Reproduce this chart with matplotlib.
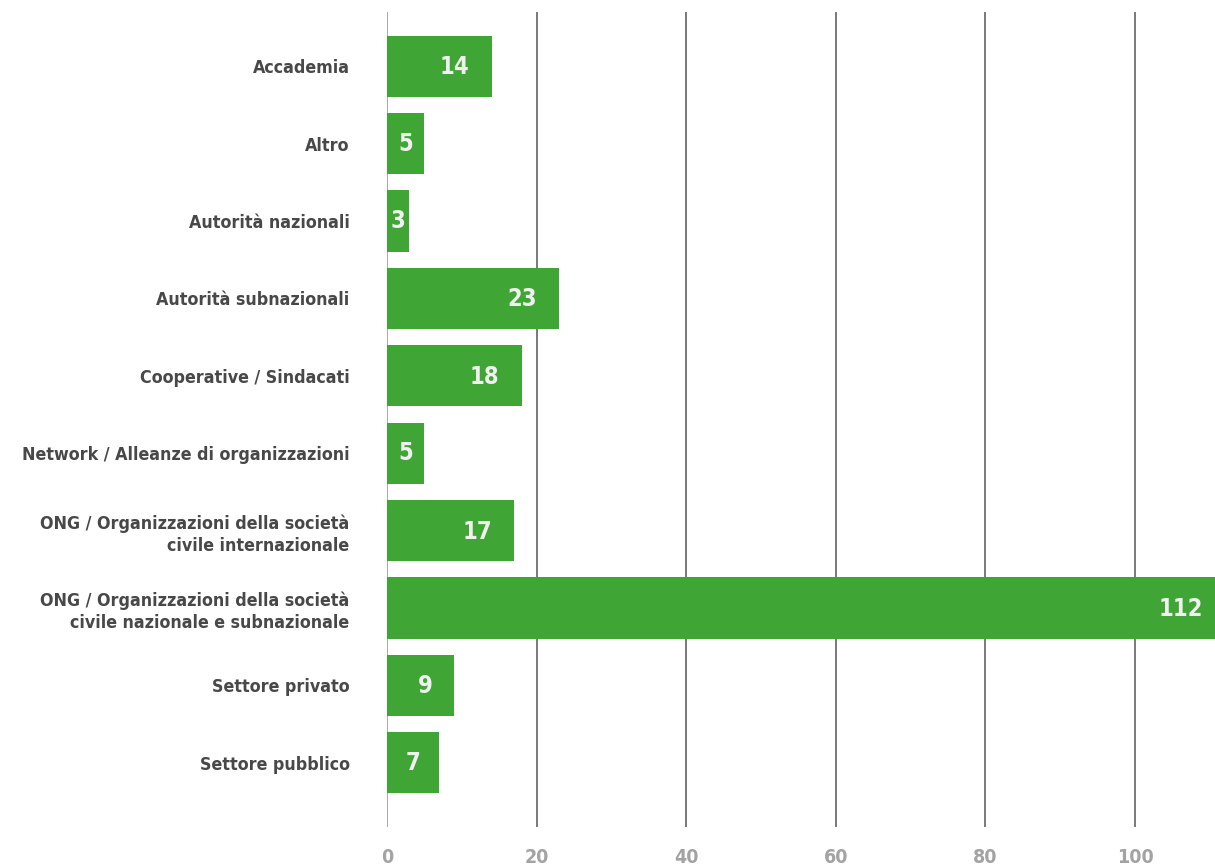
import matplotlib.pyplot as plt
from matplotlib.transforms import offset_copy

categories = [
    "Accademia",
    "Altro",
    "Autorità nazionali",
    "Autorità subnazionali",
    "Cooperative / Sindacati",
    "Network / Alleanze di organizzazioni",
    "ONG / Organizzazioni della società\ncivile internazionale",
    "ONG / Organizzazioni della società\ncivile nazionale e subnazionale",
    "Settore privato",
    "Settore pubblico",
]
values = [14, 5, 3, 23, 18, 5, 17, 112, 9, 7]
xticks = [0, 20, 40, 60, 80, 100]

plt.rcParams["font.family"] = ["DejaVu Sans"]
plt.rcParams["font.stretch"] = "condensed"

green = "#3fa535"

fig = plt.figure(figsize=(12.15, 8.68), dpi=100)
ax = fig.add_axes([387 / 1215, 1 - 827 / 868, 1 - 387 / 1215, (827 - 12) / 868])

pos = list(range(len(categories)))
ax.barh(pos, values, height=0.79, color=green, zorder=2)

xmax = 110.7
ax.set_xlim(0, xmax)
ax.set_ylim(len(categories) - 1 + 0.83, -0.70)

for x in xticks:
    ax.axvline(x, color="#a0a0a0" if x == 0 else "#6e6e6e", lw=1.3, zorder=1)

# value labels: right end of the bar, or centred when the bar is short
px_per_unit = ax.get_position().width * 1215 / xmax
shift = offset_copy(ax.transData, fig=fig, x=-22, y=-1, units="dots")
for p, v in zip(pos, values):
    if v * px_per_unit < 60:
        ax.text(v / 2, p, str(v), ha="center", va="center",
                fontsize=17, fontweight="bold", color="#f0f0f0", zorder=3)
    else:
        ax.text(v, p, str(v), transform=shift, ha="right", va="center",
                fontsize=17, fontweight="bold", color="#f0f0f0", zorder=3)

ax.set_yticks(pos)
ax.set_yticklabels(categories, fontsize=12.8, fontweight="bold", color="#484848",
                   ha="right", multialignment="right", linespacing=1.3)
ax.tick_params(axis="y", length=0, pad=27)
for lab in ax.get_yticklabels():
    lab.set_transform(lab.get_transform() + offset_copy(ax.transAxes, fig=fig, x=0, y=-2, units="dots") - ax.transAxes)

ax.set_xticks(xticks)
ax.set_xticklabels([str(t) for t in xticks], fontsize=14, fontweight="bold", color="#a3a3a3")
ax.tick_params(axis="x", length=0, pad=15)

for s in ax.spines.values():
    s.set_visible(False)

fig.savefig("out.png", dpi=100)
